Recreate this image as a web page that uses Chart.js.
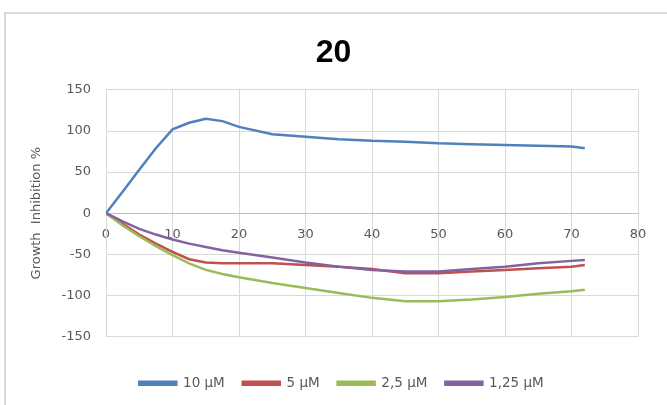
<!DOCTYPE html>
<html>
<head>
<meta charset="utf-8">
<script src="https://cdn.jsdelivr.net/npm/chart.js@4"></script>
<style>
    body { margin: 0; background: #fff; }
    #wrap { position: relative; width: 667px; height: 405px; overflow: hidden; }
    #frame {
        position: absolute; left: 4px; top: 12px; width: 700px; height: 420px;
        border-left: 2px solid #d9d9d9; border-top: 2px solid #d9d9d9;
    }
    canvas { position: absolute; left: 0; top: 0; }
</style>
</head>
<body>
<div id="wrap">
    <div id="frame"></div>
    <canvas id="growth-chart" width="667" height="405"></canvas>
</div>
<script>
// Time points (h)
const hours = [0, 2.5, 5, 7.5, 10, 12.5, 15, 17.5, 20, 25, 30, 35, 40, 45, 50, 55, 60, 65, 70, 72];

// Growth inhibition (%) per concentration
const inhib10 = [0, 26, 53, 79, 102, 110, 115, 112, 105, 96, 93, 90, 88, 87, 85, 84, 83, 82, 81, 79];
const inhib5 = [0, -13, -26, -37, -47, -56, -60, -61, -61, -61, -63, -65, -68, -73, -73, -71, -69, -67, -65, -63];
const inhib2_5 = [0, -15, -28, -40, -51, -61, -69, -74, -78, -85, -91, -97, -103, -107, -107, -105, -102, -98, -95, -93];
const inhib1_25 = [0, -10, -19, -26, -32, -37, -41, -45, -48, -54, -60, -65, -69, -71, -71, -68, -65, -61, -58, -57];

const seriesLabels = ['10 µM', '5 µM', '2,5 µM', '1,25 µM'];
const seriesColors = ['#4f81bd', '#c0504d', '#9bbb59', '#8064a2'];
const seriesValues = [inhib10, inhib5, inhib2_5, inhib1_25];

Chart.defaults.font.family = '"DejaVu Sans", sans-serif';
Chart.defaults.color = '#595959';

// later series are painted on top
const datasets = seriesValues.map((vals, i) => ({
    label: seriesLabels[i],
    data: hours.map((h, j) => ({ x: h, y: vals[j] })),
    borderColor: seriesColors[i],
    backgroundColor: seriesColors[i],
    borderWidth: 2.5,
    pointRadius: 0,
    tension: 0,
    fill: false,
    order: 4 - i
}));

const padLeft = 29;

// nudge the legend row a little to the right of the canvas centre
const legendShift = {
    id: 'legendShift',
    afterLayout(chart) {
        if (chart.legend) {
            chart.legend.left += 8;
            chart.legend.right += 8;
        }
    }
};

const ctx = document.getElementById('growth-chart').getContext('2d');
const chart = new Chart(ctx, {
    type: 'line',
    data: { datasets: datasets },
    plugins: [legendShift],
    options: {
        responsive: false,
        animation: false,
        layout: { padding: { left: padLeft, right: 29, top: 0, bottom: 5 } },
        scales: {
            x: {
                type: 'linear',
                position: { y: 0 },
                min: 0,
                max: 80,
                ticks: {
                    stepSize: 10, padding: 14, font: { size: 13 }, maxRotation: 0,
                    callback: v => String(v)
                },
                grid: { color: '#d9d9d9', lineWidth: 1, drawTicks: false },
                border: { color: '#bfbfbf', width: 1 }
            },
            y: {
                min: -150,
                max: 150,
                afterFit: scale => { scale.width = 106 - padLeft; },
                ticks: {
                    stepSize: 50, padding: 15, font: { size: 13 },
                    callback: v => String(v)
                },
                grid: { color: '#d9d9d9', lineWidth: 1, drawTicks: false },
                border: { color: '#d9d9d9', width: 1 },
                title: {
                    display: true,
                    text: 'Growth  Inhibition %',
                    font: { size: 13 },
                    padding: { top: 0, bottom: 8 }
                }
            }
        },
        plugins: {
            title: {
                display: true,
                text: '20',
                color: '#000',
                font: { size: 32, weight: 'bold', family: '"Liberation Sans", sans-serif' },
                padding: { top: 34, bottom: 17.5 }
            },
            legend: {
                position: 'bottom',
                title: { display: true, text: ' ', font: { size: 10 }, padding: { top: 0, bottom: 10 } },
                labels: {
                    boxWidth: 37,
                    boxHeight: 3,
                    padding: 18,
                    font: { size: 13.5 },
                    sort: (a, b) => a.datasetIndex - b.datasetIndex
                }
            },
            tooltip: { enabled: false }
        }
    }
});
</script>
</body>
</html>
